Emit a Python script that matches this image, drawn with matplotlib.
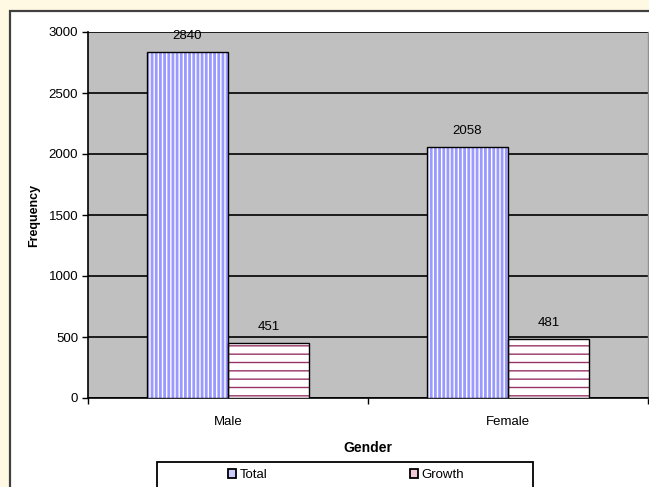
import matplotlib.pyplot as plt
from matplotlib.patches import Rectangle, Patch
import numpy as np

categories = ['Male', 'Female']
total = [2840, 2058]
growth = [451, 481]
series_names = ['Total', 'Growth']

plt.rcParams['font.family'] = ['Liberation Sans', 'DejaVu Sans']
FS = 9.5

fig = plt.figure(figsize=(6.49, 4.87), dpi=100)
fig.patch.set_facecolor('#fff9e3')

# white chart area with dark border, running off the right/bottom edges
W, H = 649, 487
fig.patches.append(Rectangle((10 / W, -0.2), 1.2, 1 - 11 / H + 0.2,
                             transform=fig.transFigure, facecolor='white',
                             edgecolor='#404040', linewidth=1.6, zorder=-1))

ax = fig.add_axes([88 / W, 1 - 398 / H, (648 - 88) / W, (398 - 32) / H])
ax.set_facecolor('#c0c0c0')

x = np.arange(len(categories))
w = 0.29

# hatched fills (hatch colour follows edgecolor), then black outlines
plt.rcParams['hatch.linewidth'] = 2.0
f1 = ax.bar(x - w / 2, total, w, facecolor='white', edgecolor='#9999ff',
            hatch='||||', linewidth=0, zorder=3)
plt.rcParams['hatch.linewidth'] = 1.0
f2 = ax.bar(x + w / 2, growth, w, facecolor='white', edgecolor='#993366',
            hatch='--', linewidth=0, zorder=3)
for bars, lw in ((f1, 2.0), (f2, 1.0)):
    for r in bars:
        if hasattr(r, 'set_hatch_linewidth'):
            r.set_hatch_linewidth(lw)
        else:
            r._hatch_linewidth = lw
b1 = ax.bar(x - w / 2, total, w, fill=False, edgecolor='black',
            linewidth=1, zorder=4)
b2 = ax.bar(x + w / 2, growth, w, fill=False, edgecolor='black',
            linewidth=1, zorder=4)

for bars, vals in ((b1, total), (b2, growth)):
    for r, v in zip(bars, vals):
        ax.text(r.get_x() + r.get_width() / 2, v + 130, str(v),
                ha='center', va='center', fontsize=FS)

ax.set_xlim(-0.5, 1.5)
ax.set_ylim(0, 3000)
ax.set_yticks(range(0, 3001, 500))
ax.yaxis.grid(True, color='black', linewidth=1.2)
ax.set_axisbelow(True)
ax.tick_params(axis='y', direction='out', length=4, width=1, labelsize=FS, pad=3)
ax.set_xticks(x)
ax.set_xticklabels(categories, fontsize=FS)
ax.tick_params(axis='x', length=0, pad=13)
ax.set_xticks([-0.5, 0.5, 1.5], minor=True)
ax.tick_params(axis='x', which='minor', direction='out', length=4, width=1)

for s in ('top', 'right'):
    ax.spines[s].set_color('#909090')
    ax.spines[s].set_linewidth(1)
for s in ('left', 'bottom'):
    ax.spines[s].set_color('black')
    ax.spines[s].set_linewidth(1.2)
ax.spines['top'].set_visible(False)

ax.set_ylabel('Frequency', fontsize=9, fontweight='bold', labelpad=6)
ax.set_xlabel('Gender', fontsize=10, fontweight='bold', labelpad=9)

# legend box runs off the bottom edge
fig.patches.append(Rectangle((157 / W, -0.2), (533 - 157) / W, 0.2 + 1 - 462 / H,
                             transform=fig.transFigure, facecolor='white',
                             edgecolor='black', linewidth=1.3, zorder=5))
handles = [Patch(facecolor='#ccccff', edgecolor='black', linewidth=1.3),
           Patch(facecolor='#f0c8d8', edgecolor='black', linewidth=1.3)]
leg = fig.legend(handles, series_names, ncol=2, loc='center',
                 bbox_to_anchor=(346 / W, 1 - 475 / H),
                 fontsize=FS, frameon=False,
                 handlelength=0.65, handleheight=0.65, handletextpad=0.25,
                 columnspacing=10.8, borderpad=0, borderaxespad=0)
leg.set_zorder(6)

fig.savefig('out.png', dpi=100, facecolor=fig.get_facecolor())
